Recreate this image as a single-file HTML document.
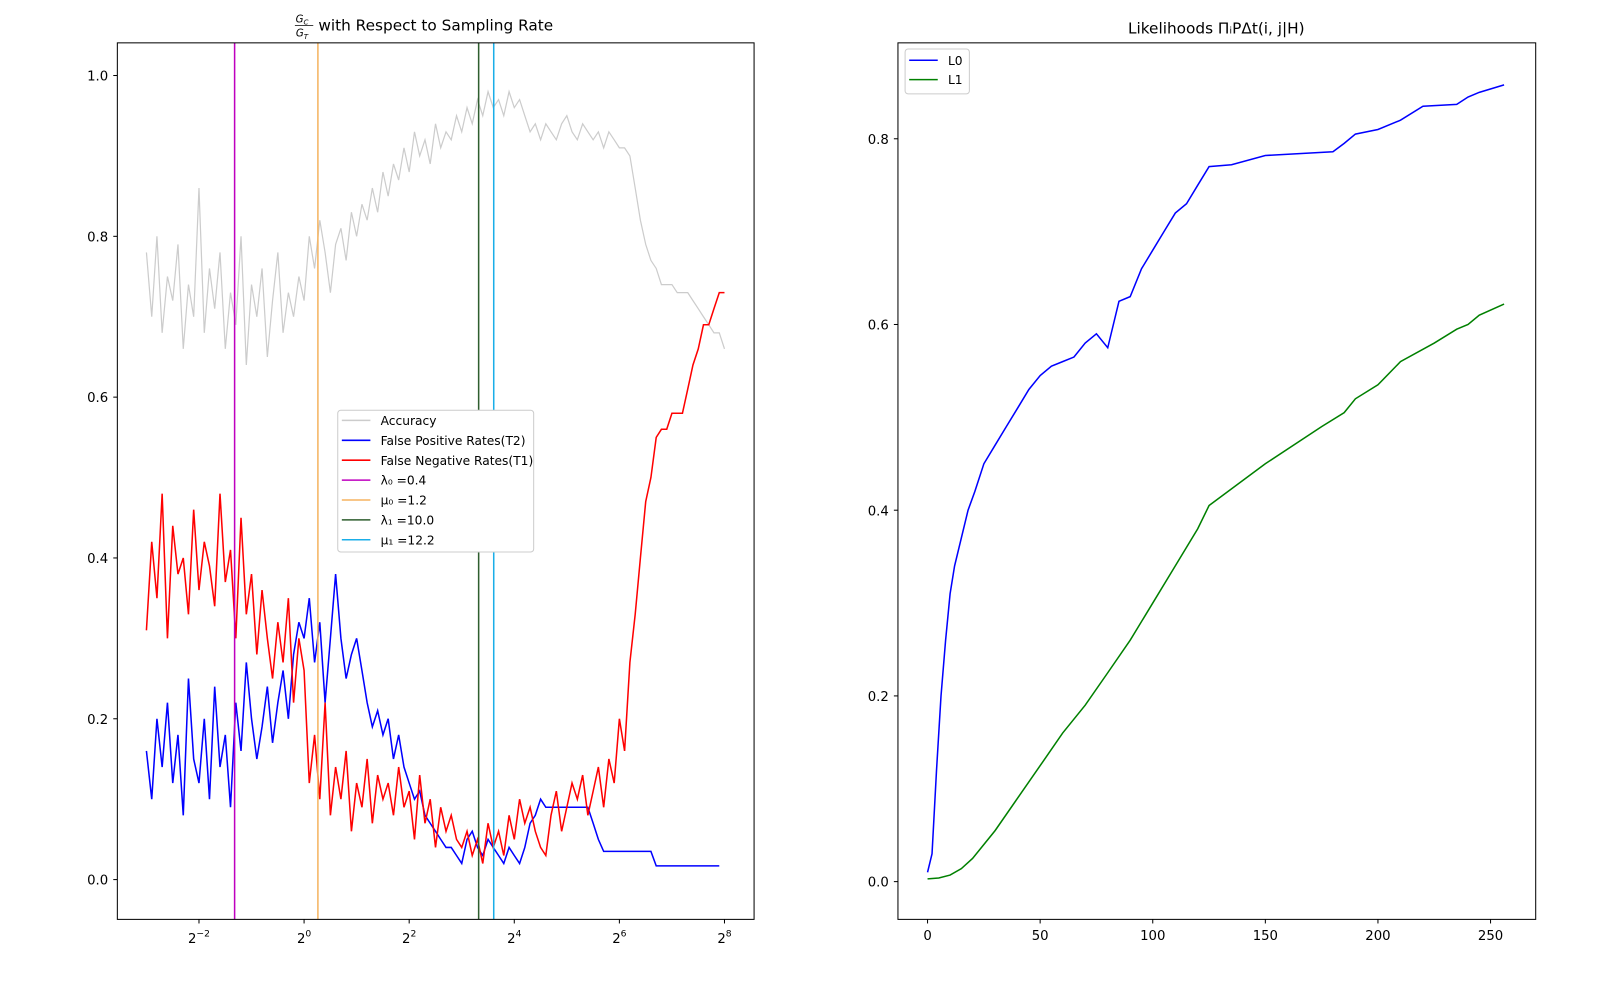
<!DOCTYPE html>
<html><head><meta charset="utf-8"><style>
body{margin:0;background:#fff;font-family:"Liberation Sans","DejaVu Sans",sans-serif;}
svg text{font-family:"DejaVu Sans","Liberation Sans",sans-serif;}
</style></head><body>
<svg width="1600" height="1000" xmlns="http://www.w3.org/2000/svg"><g id="c" transform="scale(1.0204)"></g></svg>
<script>
const leftX=[];for(let i=0;i<=110;i++)leftX.push(-3+i*0.1);
const accuracy=[0.78,0.70,0.80,0.68,0.75,0.72,0.79,0.66,0.74,0.70,0.86,0.68,0.76,0.71,0.78,0.66,0.73,0.69,0.80,0.64,0.74,0.70,0.76,0.65,0.72,0.78,0.68,0.73,0.70,0.75,
0.72,0.80,0.76,0.82,0.78,0.73,0.79,0.81,0.77,0.83,0.80,0.84,0.82,0.86,0.83,0.88,0.85,0.89,0.87,0.91,0.88,0.93,0.90,0.92,0.89,0.94,0.91,0.93,0.92,0.95,
0.93,0.96,0.94,0.97,0.95,0.98,0.96,0.97,0.95,0.98,0.96,0.97,0.95,0.93,0.94,0.92,0.94,0.93,0.92,0.94,0.95,0.93,0.92,0.94,0.93,0.92,0.93,0.91,0.93,0.92,
0.91,0.91,0.90,0.86,0.82,0.79,0.77,0.76,0.74,0.74,0.74,0.73,0.73,0.73,0.72,0.71,0.70,0.69,0.68,0.68,0.66];
const fpr=[0.16,0.10,0.20,0.14,0.22,0.12,0.18,0.08,0.25,0.15,0.12,0.20,0.10,0.24,0.14,0.18,0.09,0.22,0.16,0.27,0.20,0.15,0.19,0.24,0.17,0.22,0.26,0.20,0.28,0.32,
0.30,0.35,0.27,0.32,0.22,0.30,0.38,0.30,0.25,0.28,0.30,0.26,0.22,0.19,0.21,0.18,0.20,0.15,0.18,0.14,0.12,0.10,0.11,0.08,0.07,0.06,0.05,0.04,0.04,0.03,
0.02,0.05,0.06,0.04,0.03,0.05,0.04,0.03,0.02,0.04,0.03,0.02,0.04,0.07,0.08,0.10,0.09,0.09,0.09,0.09,0.09,0.09,0.09,0.09,0.09,0.07,0.05,0.035,0.035,0.035,
0.035,0.035,0.035,0.035,0.035,0.035,0.035,0.017,0.017,0.017,0.017,0.017,0.017,0.017,0.017,0.017,0.017,0.017,0.017,0.017];
const fnr=[0.31,0.42,0.35,0.48,0.30,0.44,0.38,0.40,0.33,0.46,0.36,0.42,0.39,0.34,0.48,0.37,0.41,0.30,0.45,0.33,0.38,0.28,0.36,0.30,0.25,0.32,0.27,0.35,0.22,0.30,
0.26,0.12,0.18,0.10,0.22,0.08,0.14,0.10,0.16,0.06,0.12,0.09,0.15,0.07,0.13,0.10,0.12,0.08,0.14,0.09,0.11,0.05,0.13,0.07,0.10,0.04,0.09,0.06,0.08,0.05,
0.04,0.06,0.03,0.05,0.02,0.07,0.04,0.06,0.03,0.08,0.05,0.10,0.07,0.09,0.06,0.04,0.03,0.08,0.11,0.06,0.09,0.12,0.10,0.13,0.08,0.11,0.14,0.09,0.15,0.12,
0.20,0.16,0.27,0.33,0.40,0.47,0.50,0.55,0.56,0.56,0.58,0.58,0.58,0.61,0.64,0.66,0.69,0.69,0.71,0.73,0.73];
const vlineValues=[0.4,1.2,10.0,12.2];
const vlineLabels=["λ₀ =0.4","μ₀ =1.2","λ₁ =10.0","μ₁ =12.2"];
const vlineColors=["#bf00bf","#f5b461","#2f5e2f","#1aaee8"];
const leftYTicks=[0,0.2,0.4,0.6,0.8,1.0];
const leftXTicks=[-2,0,2,4,6,8];
const l0X=[0,2,4,6,8,10,12,15,18,21,25,30,35,40,45,50,55,60,65,70,75,80,85,90,95,100,105,110,115,120,125,135,150,165,180,185,190,200,210,220,235,240,245,256];
const l0Y=[0.01,0.03,0.12,0.20,0.26,0.31,0.34,0.37,0.40,0.42,0.45,0.47,0.49,0.51,0.53,0.545,0.555,0.56,0.565,0.58,0.59,0.575,0.625,0.63,0.66,0.68,0.70,0.72,0.73,0.75,0.77,0.772,0.782,0.784,0.786,0.795,0.805,0.81,0.82,0.835,0.837,0.845,0.85,0.858];
const l1X=[0,5,10,15,20,25,30,40,50,60,70,80,90,100,110,120,125,150,175,185,190,200,210,225,235,240,245,256];
const l1Y=[0.003,0.004,0.007,0.014,0.025,0.04,0.055,0.09,0.125,0.16,0.19,0.225,0.26,0.30,0.34,0.38,0.405,0.45,0.49,0.505,0.52,0.535,0.56,0.58,0.595,0.60,0.61,0.622];
const rightXTicks=[0,50,100,150,200,250];
const rightYTicks=[0,0.2,0.4,0.6,0.8];

const svg=document.getElementById('c');const NS='http://www.w3.org/2000/svg';
function el(t,a,p){const e=document.createElementNS(NS,t);for(const k in a)e.setAttribute(k,a[k]);(p||svg).appendChild(e);return e;}
const lx=v=>298+v*51.5, ly=v=>862-v*788;
const rx=v=>909+v*2.207, ry=v=>864-v*910;

function frame(x0,y0,x1,y1,name){const r=el('rect',{x:x0,y:y0,width:x1-x0,height:y1-y0,fill:'none',stroke:'#000','stroke-width':1});}
function line(xs,ys,fx,fy,color,name,w){const d=xs.map((x,i)=>(i?'L':'M')+fx(x).toFixed(1)+','+fy(ys[i]).toFixed(1)).join('');const p=el('path',{d:d,fill:'none',stroke:color,'stroke-width':w||1.5});}
function txt(x,y,s,anchor,size,name){const t=el('text',{x:x,y:y,'text-anchor':anchor,'font-size':size||13});t.textContent=s;return t;}

line(leftX,accuracy,lx,ly,'#cccccc','accuracy-line',1.2);
line(leftX,fpr,lx,ly,'#0000ff','false-positive-line');
line(leftX,fnr,lx,ly,'#ff0000','false-negative-line');
vlineValues.forEach((v,i)=>{const l=el('line',{x1:lx(Math.log2(v)),x2:lx(Math.log2(v)),y1:42,y2:901,stroke:vlineColors[i],'stroke-width':1.5});});
frame(115,42,739,901,'left-plot-area');
leftYTicks.forEach(v=>{el('line',{x1:111,x2:115,y1:ly(v),y2:ly(v),stroke:'#000'});txt(106,ly(v)+5,v.toFixed(1),'end',13,'left-y-tick');});
leftXTicks.forEach(v=>{el('line',{x1:lx(v),x2:lx(v),y1:901,y2:905,stroke:'#000'});const t=txt(lx(v),924,'2','middle',13,'left-x-tick');const s=el('tspan',{dy:-6,'font-size':9},t);s.textContent=(v<0?'−':'')+Math.abs(v);});
const tt=txt(312,30,'with Respect to Sampling Rate','start',15,'left-title');
const fn=txt(296,22,'G','middle',10,'title-frac-num');fn.setAttribute('font-style','italic');const fs1=el('tspan',{'font-size':7,dy:2},fn);fs1.textContent='C';
el('line',{x1:289,x2:307,y1:25,y2:25,stroke:'#000','stroke-width':0.8});
const fd=txt(296,36,'G','middle',10,'title-frac-den');fd.setAttribute('font-style','italic');const fs2=el('tspan',{'font-size':7,dy:2},fd);fs2.textContent='T';
const lg=el('rect',{x:331,y:402,width:192,height:139,fill:'#fff',stroke:'#ccc',rx:3});
const legItems=[['Accuracy','#cccccc'],['False Positive Rates(T2)','#0000ff'],['False Negative Rates(T1)','#ff0000']].concat(vlineLabels.map((l,i)=>[l,vlineColors[i]]));
legItems.forEach((it,i)=>{const y=412+i*19.5;el('line',{x1:335,x2:363,y1:y,y2:y,stroke:it[1],'stroke-width':1.5});txt(373,y+4.5,it[0],'start',12,'legend-entry');});
line(l0X,l0Y,rx,ry,'#0000ff','l0-line');
line(l1X,l1Y,rx,ry,'#008000','l1-line');
frame(880,42,1505,901,'right-plot-area');
rightYTicks.forEach(v=>{el('line',{x1:876,x2:880,y1:ry(v),y2:ry(v),stroke:'#000'});txt(871,ry(v)+5,v.toFixed(1),'end',13,'right-y-tick');});
rightXTicks.forEach(v=>{el('line',{x1:rx(v),x2:rx(v),y1:901,y2:905,stroke:'#000'});txt(rx(v),921,String(v),'middle',13,'right-x-tick');});
txt(1192,33,'Likelihoods Π\u1D62P\u0394t(i, j|H)','middle',15,'right-title');
const rg=el('rect',{x:887,y:48,width:63,height:44,fill:'#fff',stroke:'#ccc',rx:3});
[['L0','#0000ff'],['L1','#008000']].forEach((it,i)=>{const y=59+i*19;el('line',{x1:891,x2:919,y1:y,y2:y,stroke:it[1],'stroke-width':1.5});txt(929,y+4.5,it[0],'start',12,'legend-entry');});
</script>
</body></html>
